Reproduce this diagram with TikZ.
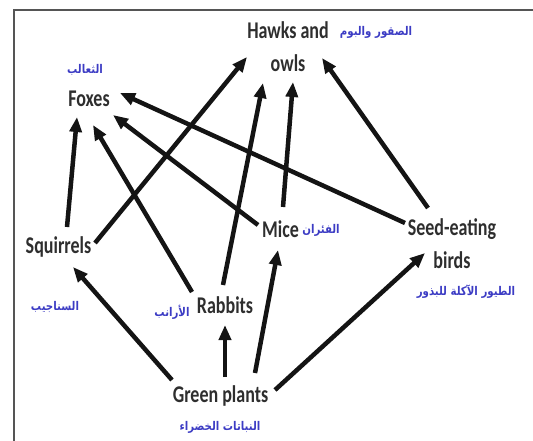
\documentclass[tikz,border=0pt]{standalone}
\usepackage{fontspec}
\usetikzlibrary{arrows.meta,calc}
\TeXXeTstate=1
\newfontfamily\labfont[FakeStretch=0.75]{Carlito}
\newfontfamily\arabicfont[Script=Arabic,FakeStretch=0.85]{DejaVu Sans}
\definecolor{ink}{HTML}{2E2E2E}
\definecolor{arblue}{HTML}{3C3CC4}
\definecolor{framegray}{HTML}{555555}

\begin{document}
\begin{tikzpicture}[x=1pt,y=-1pt,>={Triangle[length=15pt,width=12pt]},
  animal/.style={font=\labfont\bfseries\fontsize{24}{33}\selectfont,text=ink,
    align=center,inner sep=0pt,anchor=base},
  arname/.style={font=\arabicfont\bfseries\fontsize{12}{14}\selectfont,text=arblue,inner sep=0pt},
  eats/.style={->,line width=4.5pt,black!92}]
  \useasboundingbox (0,0) rectangle (533,441);
  \draw[framegray,line width=1.5pt] (14,441)--(14,10)--(533,10);
  % animals and plants
  \node[animal] (hawk) at (288,72) {Hawks and\\owls};
  \node[animal] (fox) at (89,107) {Foxes};
  \node[animal] (squ) at (58.5,253) {Squirrels};
  \node[animal] (rab) at (225,313) {Rabbits};
  \node[animal] (mic) at (280.5,237) {Mice};
  \node[animal] (bir) at (452,268) {Seed-eating\\birds};
  \node[animal] (gre) at (220.5,402) {Green plants};
  % arabic names
  \node[arname] (hawk-ar) at (376,32) {\beginR الصقور والبوم\endR};
  \node[arname] (fox-ar) at (85,70) {\beginR الثعالب\endR};
  \node[arname] (squ-ar) at (55,307) {\beginR السناجيب\endR};
  \node[arname] (rab-ar) at (172,312) {\beginR الأرانب\endR};
  \node[arname] (mic-ar) at (321,230) {\beginR الفئران\endR};
  \node[arname] (bir-ar) at (466,292) {\beginR الطيور الآكلة للبذور\endR};
  \node[arname] (gre-ar) at (220,427) {\beginR النباتات الخضراء\endR};
  % who eats whom
  \draw[eats] ($(squ.base)+(8.5,-26)$) -- ($(fox.base)+(-12,10)$);
  \draw[eats] ($(squ.base)+(36.5,-10)$) -- ($(hawk.base)+(-41,-15)$);
  \draw[eats] ($(rab.base)+(-33,-21)$) -- ($(fox.base)+(4,18)$);
  \draw[eats] ($(rab.base)+(-2,-28)$) -- ($(hawk.base)+(-25,11)$);
  \draw[eats] ($(mic.base)+(-22.5,-12)$) -- ($(fox.base)+(24,8)$);
  \draw[eats] ($(mic.base)+(2.5,-30)$) -- ($(hawk.base)+(5,10)$);
  \draw[eats] ($(bir.base)+(-47,-45)$) -- ($(fox.base)+(31,-14)$);
  \draw[eats] ($(bir.base)+(-24,-60)$) -- ($(hawk.base)+(34,-14)$);
  \draw[eats] ($(gre.base)+(-48.5,-22)$) -- ($(squ.base)+(14.5,14)$);
  \draw[eats] ($(gre.base)+(4.5,-25)$) -- ($(rab.base)+(0,12)$);
  \draw[eats] ($(gre.base)+(34.5,-29)$) -- ($(mic.base)+(-2.5,13)$);
  \draw[eats] ($(gre.base)+(54.5,-12)$) -- ($(bir.base)+(-27,-15)$);
\end{tikzpicture}
\end{document}
